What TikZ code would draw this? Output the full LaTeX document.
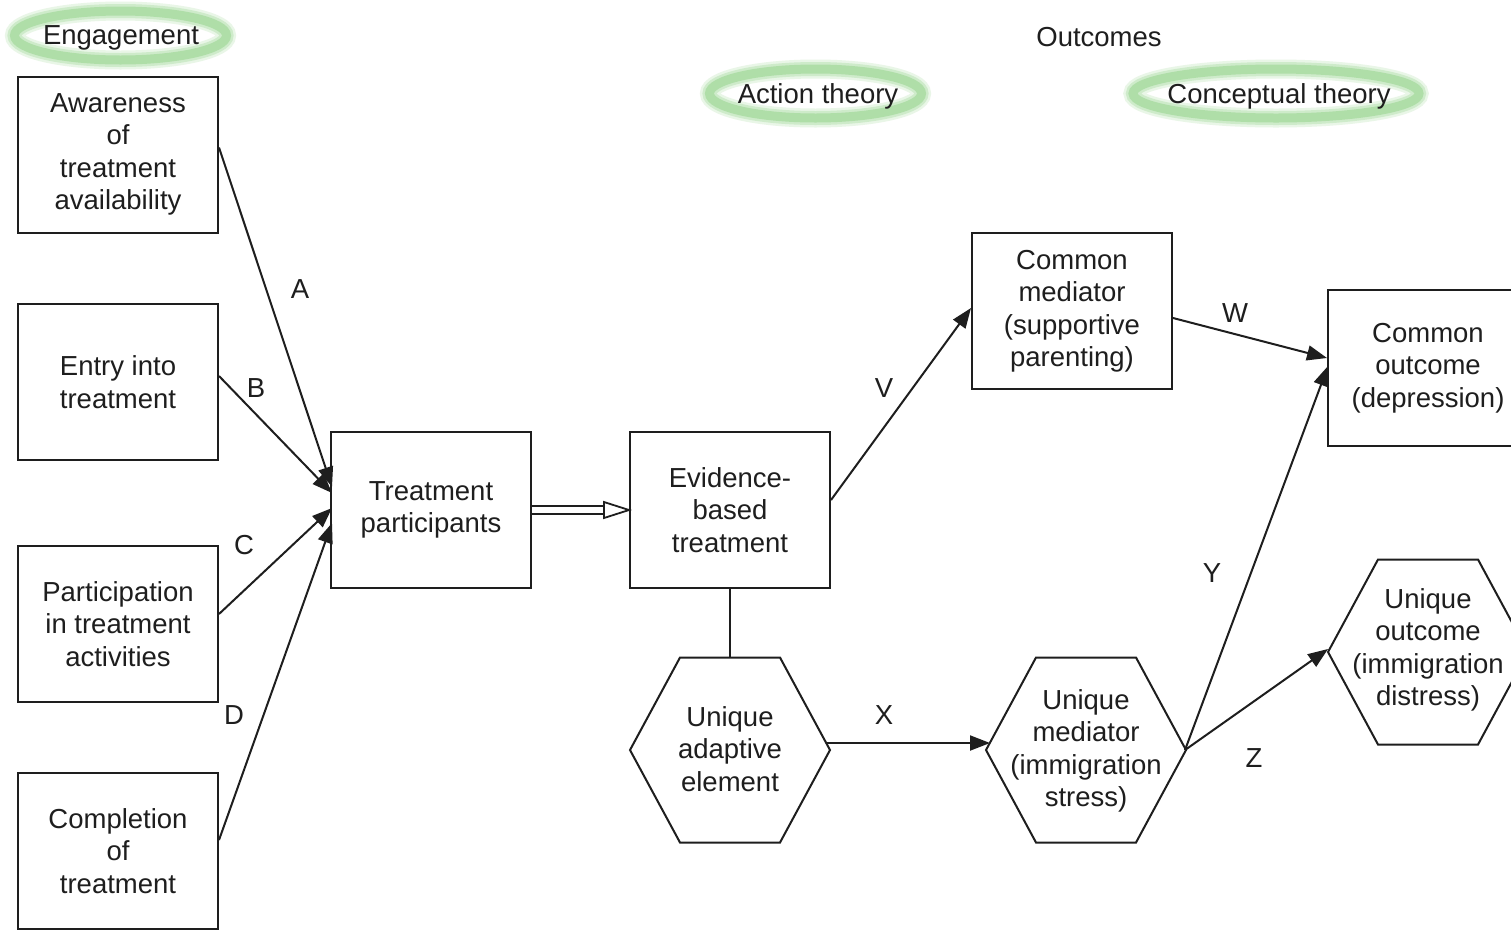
\documentclass[tikz,border=0pt]{standalone}
\usepackage{fontspec}
\setmainfont{Liberation Sans}
\usetikzlibrary{arrows.meta}
\definecolor{ringgreen}{RGB}{166,218,158}
\definecolor{ink}{RGB}{30,30,30}

\begin{document}
\begin{tikzpicture}[x=1pt,y=-1pt,
  every node/.style={font=\fontsize{27.5}{32.5}\selectfont, text=ink, align=center},
  box/.style={draw=ink, line width=2pt, minimum width=200pt, minimum height=156pt, inner sep=0pt},
  hexlabel/.style={inner sep=0pt},
  hexline/.style={draw=ink, line width=2pt, line join=miter},
  link/.style={draw=ink, line width=2pt, -{Triangle[length=20pt,width=15pt]}},
  plain/.style={draw=ink, line width=2pt},
  letter/.style={inner sep=0pt},
  ringsoft/.style={draw=ringgreen!25, line width=19pt},
  ringmid/.style={draw=ringgreen!55, line width=14pt},
  ringcore/.style={draw=ringgreen!90, line width=9pt}]

\clip (0,0) rectangle (1511,930);
\fill[white] (0,0) rectangle (1511,930);

% headings with green rings
\coordinate (engc) at (120.5,35.5);
\coordinate (actc) at (815.5,93.5);
\coordinate (conc) at (1276,93.5);
\foreach \n/\rx in {engc/106, actc/106, conc/143}{
  \draw[ringsoft] (\n) ellipse [x radius=\rx, y radius=24.5];
  \draw[ringmid] (\n) ellipse [x radius=\rx, y radius=24.5];
  \draw[ringcore] (\n) ellipse [x radius=\rx, y radius=24.5];
}
\node (eng) at (121,37.5) {Engagement};
\node (act) at (818,96) {Action theory};
\node (con) at (1279,96) {Conceptual theory};
\node (outc) at (1099,37.5) {Outcomes};

% engagement boxes
\node[box] (aware) at (118,154.5) {Awareness\\of\\treatment\\availability};
\node[box] (entry) at (118,382) {Entry into\\treatment};
\node[box] (partic) at (118,624) {Participation\\in treatment\\activities};
\node[box] (compl) at (118,851) {Completion\\of\\treatment};

% treatment boxes
\node[box] (tp) at (431,510) {Treatment\\participants};
\node[box] (ebt) at (730,510) {Evidence-\\based\\treatment};
\node[box] (cm) at (1072,311) {Common\\mediator\\(supportive\\parenting)};
\node[box] (co) at (1428,368) {Common\\outcome\\(depression)};

% hexagon nodes
\node[hexlabel] (uae) at (730,749) {Unique\\adaptive\\element};
\node[hexlabel] (um) at (1086,751) {Unique\\mediator\\(immigration\\stress)};
\node[hexlabel] (uo) at (1428,650) {Unique\\outcome\\(immigration\\distress)};
\coordinate (uaec) at (730,750);
\coordinate (umc) at (1086,750);
\coordinate (uoc) at (1428,652);
\foreach \n in {uaec,umc,uoc}{
  \draw[hexline, shift={(\n)}] (-100,0) -- (-50,-92.5) -- (50,-92.5) -- (100,0) -- (50,92.5) -- (-50,92.5) -- cycle;
}
\path[shift={(uaec)}] (0,-92.5) coordinate (uae-n) (97,-7) coordinate (uae-x);
\path[shift={(umc)}] (-96,-7) coordinate (um-x) (99,0) coordinate (um-e);
\path[shift={(uoc)}] (-100,-3) coordinate (uo-w);

% engagement paths
\draw[link] ([yshift=7pt]aware.east) -- ([xshift=2pt,yshift=23pt]tp.west);
\draw[link] ([yshift=6pt]entry.east) -- ([xshift=2pt,yshift=17pt]tp.west);
\draw[link] ([yshift=10pt]partic.east) -- ([xshift=2pt,yshift=2pt]tp.west);
\draw[link] ([yshift=11pt]compl.east) -- ([xshift=2pt,yshift=-13pt]tp.west);

% double arrow into treatment
\draw[plain, line width=1.8pt] ([yshift=4pt]tp.east) -- ([xshift=-20pt,yshift=4pt]ebt.west);
\draw[plain, line width=1.8pt] ([yshift=-4pt]tp.east) -- ([xshift=-20pt,yshift=-4pt]ebt.west);
\draw[plain, line width=1.8pt, fill=white, line join=miter] (ebt.west) -- ++(-25,-8) -- ++(0,16) -- cycle;

% outcome paths
\draw[plain] (ebt.south) -- (uae-n);
\draw[link] ([yshift=10pt]ebt.east) -- ([yshift=3pt]cm.west);
\draw[link] ([yshift=-7pt]cm.east) -- ([yshift=10pt]co.west);
\draw[link] (uae-x) -- (um-x);
\draw[link] (um-e) -- ([xshift=1pt,yshift=2pt]co.west);
\draw[link] (um-e) -- (uo-w);

% path letters
\node[letter] (la) at (300,289) {A};
\node[letter] (lb) at (256,388) {B};
\node[letter] (lc) at (244,545) {C};
\node[letter] (ld) at (234,715) {D};
\node[letter] (lv) at (884,388) {V};
\node[letter] (lw) at (1235,313) {W};
\node[letter] (lx) at (884,715) {X};
\node[letter] (ly) at (1212,573) {Y};
\node[letter] (lz) at (1254,758) {Z};
\end{tikzpicture}
\end{document}
